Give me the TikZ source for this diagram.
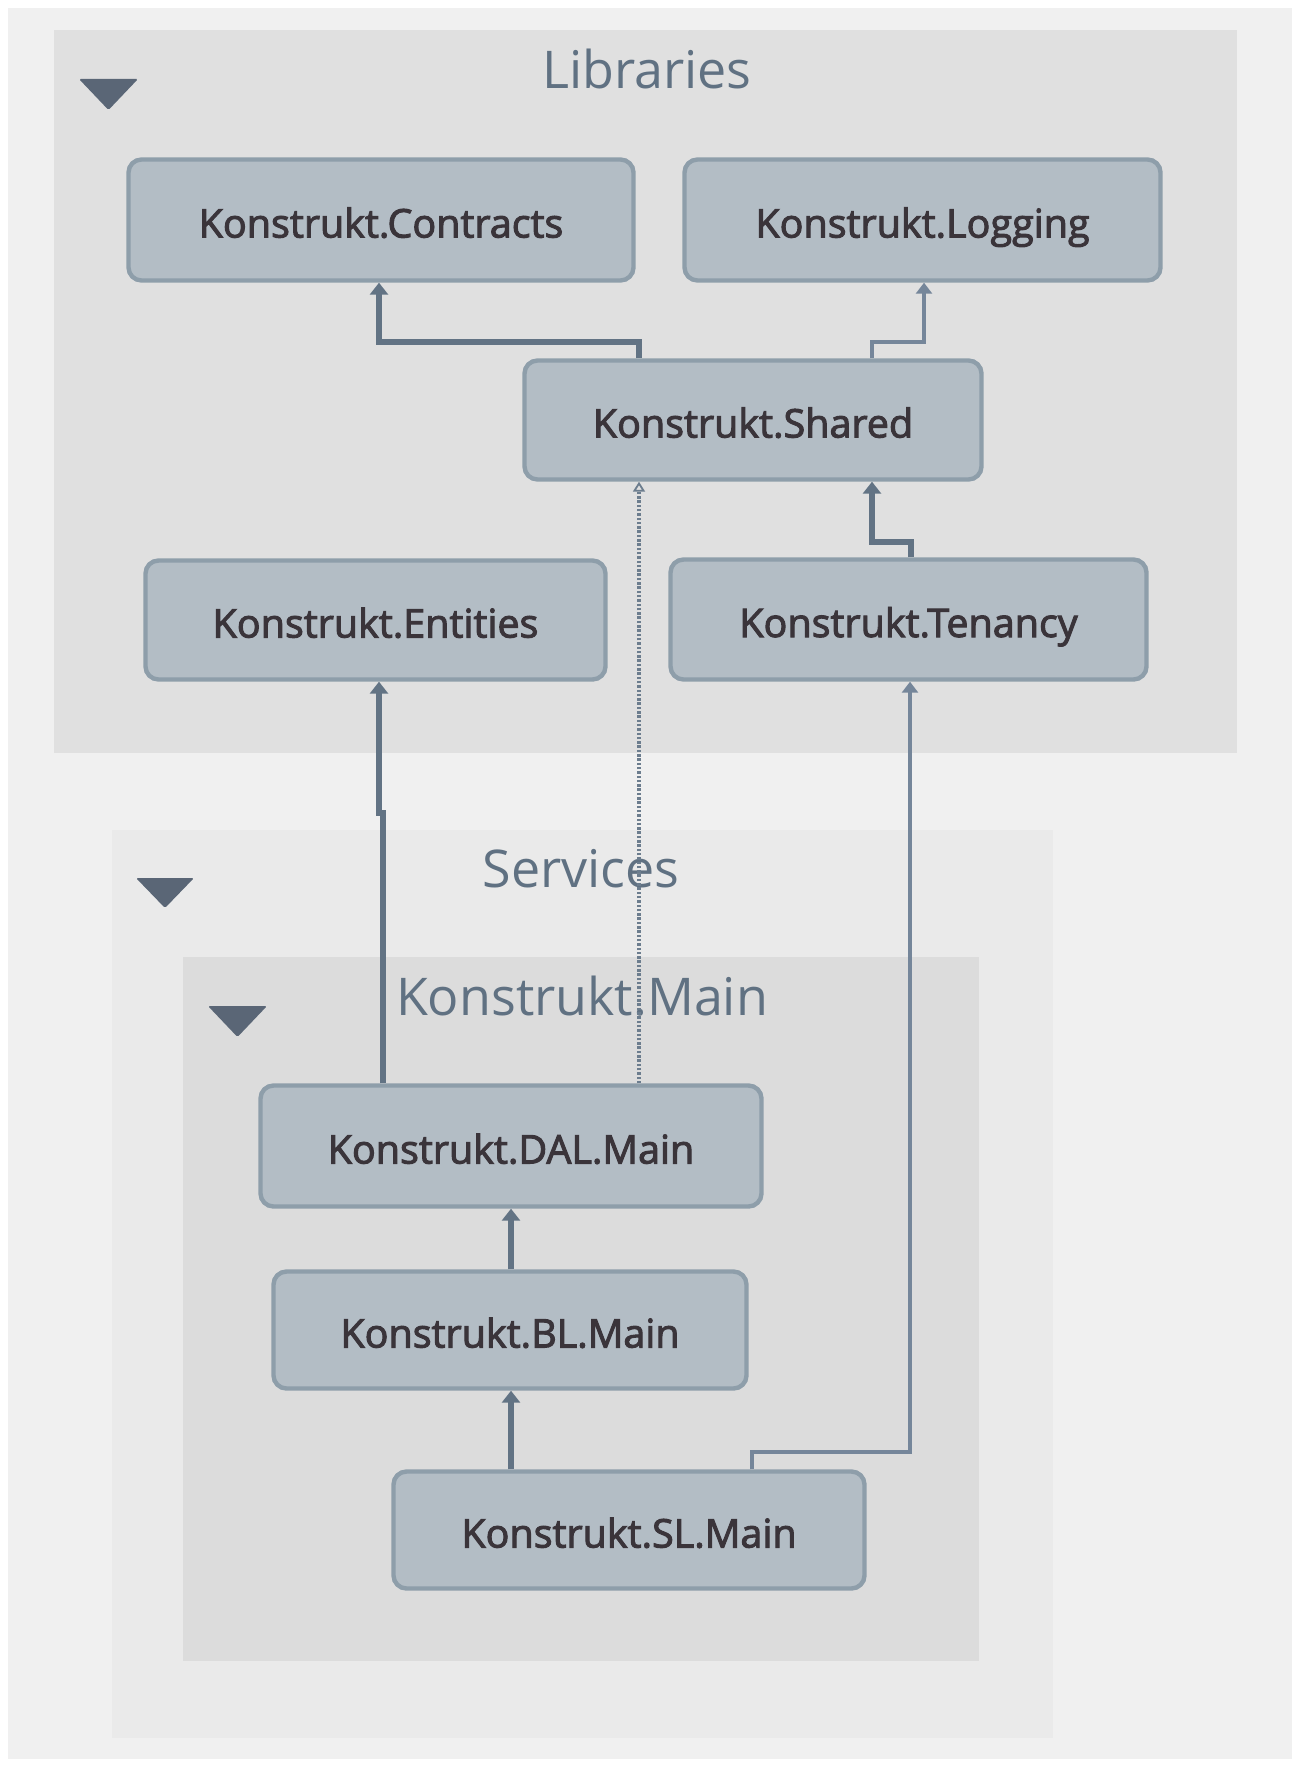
\documentclass[tikz,border=0pt]{standalone}
\usepackage{fontspec}
\setmainfont{Open Sans}
\newfontfamily\boxfont[FakeBold=2.5]{Open Sans}
\usetikzlibrary{arrows.meta}
\definecolor{bgc}{HTML}{F0F0F0}
\definecolor{libc}{HTML}{E0E0E0}
\definecolor{svcc}{HTML}{EAEAEA}
\definecolor{mainc}{HTML}{DCDCDC}
\definecolor{boxfill}{HTML}{B3BDC5}
\definecolor{boxline}{HTML}{8E9EAA}
\definecolor{boxtext}{HTML}{3A343A}
\definecolor{titlec}{HTML}{607182}
\definecolor{linec}{HTML}{627384}
\definecolor{thinc}{HTML}{75869A}
\definecolor{dotc}{HTML}{6C7D8E}
\definecolor{tric}{HTML}{5A6676}
\begin{document}
\begin{tikzpicture}[x=1pt,y=-1pt,
  comp/.style={draw=boxline, line width=4.4pt, fill=boxfill, rounded corners=13pt,
    inner sep=0pt, text=boxtext, font=\boxfont\fontsize{39.5}{46}\selectfont,
    text height=35pt, text depth=0pt},
  grouptitle/.style={anchor=base, text=titlec, font=\fontsize{52}{60}\selectfont, inner sep=0pt},
  container/.style={draw=none, inner sep=0pt},
  strong/.style={draw=linec, line width=6pt, -{Triangle[length=12pt,width=18pt]}},
  weak/.style={draw=thinc, line width=3.2pt, -{Triangle[length=11pt,width=16pt]}},
  dotline/.style={draw=dotc, line width=3.2pt, dash pattern=on 2.5pt off 1.8pt,
    -{Triangle[open,length=10pt,width=12pt,line width=1.8pt]}},
  tri/.style={fill=tric, rounded corners=1.5pt}
]
\useasboundingbox (0,0) rectangle (1299,1766);
\fill[white] (0,0) rectangle (1299,1766);
\fill[bgc] (8,8) rectangle (1292,1759);

% containers
\node[container, fill=libc, minimum width=1183pt, minimum height=723pt] (libs) at (645.5,391.5) {};
\node[container, fill=svcc, minimum width=941pt, minimum height=908pt] (svcs) at (582.5,1284) {};
\node[container, fill=mainc, minimum width=796pt, minimum height=704pt] (kmain) at (581,1309) {};

% titles
\node[grouptitle] (tlibs) at (647,89) {Libraries};
\node[grouptitle] (tsvcs) at (581,887) {Services};
\node[grouptitle] (tmain) at (582,1015) {Konstrukt.Main};

% collapse triangles
\fill[tri] (79,79) -- (138,79) -- (108.5,110) -- cycle;
\fill[tri] (136,878) -- (194,878) -- (165,908) -- cycle;
\fill[tri] (208,1006) -- (267,1006) -- (237.5,1037) -- cycle;

% components
\node[comp, minimum width=505pt, minimum height=121pt] (Contracts) at (381,220) {Konstrukt.Contracts};
\node[comp, minimum width=476pt, minimum height=121pt] (Logging) at (922.5,220) {Konstrukt.Logging};
\node[comp, minimum width=457pt, minimum height=119pt] (Shared) at (753,420) {Konstrukt.Shared};
\node[comp, minimum width=460pt, minimum height=119pt] (Entities) at (375.5,620) {Konstrukt.Entities};
\node[comp, minimum width=476pt, minimum height=120pt] (Tenancy) at (908.5,619.5) {Konstrukt.Tenancy};
\node[comp, minimum width=501pt, minimum height=121pt] (DAL) at (511,1146) {Konstrukt.DAL.Main};
\node[comp, minimum width=473pt, minimum height=117pt] (BL) at (510,1330) {Konstrukt.BL.Main};
\node[comp, minimum width=471pt, minimum height=117pt] (SL) at (629,1530) {Konstrukt.SL.Main};

% bend points
\coordinate (a1) at (639,342); \coordinate (a2) at (379,342);
\coordinate (b1) at (872,342); \coordinate (b2) at (924,342);
\coordinate (c1) at (911,542); \coordinate (c2) at (872,542);
\coordinate (d1) at (383,813); \coordinate (d2) at (379,813);
\coordinate (e1) at (639,800);
\coordinate (f1) at (511,1300);
\coordinate (g1) at (752,1452); \coordinate (g2) at (910,1452);

% connectors
\draw[strong] (Shared.north -| a1) -- (a1) -- (a2) -- (Contracts.south -| a2);
\draw[weak] (Shared.north -| b1) -- (b1) -- (b2) -- (Logging.south -| b2);
\draw[strong] (Tenancy.north -| c1) -- (c1) -- (c2) -- (Shared.south -| c2);
\draw[strong] (DAL.north -| d1) -- (d1) -- (d2) -- (Entities.south -| d2);
\draw[dotline] (DAL.north -| e1) -- (Shared.south -| e1);
\draw[strong] (BL.north -| f1) -- (DAL.south -| f1);
\draw[strong] (SL.north -| f1) -- (BL.south -| f1);
\draw[weak] (SL.north -| g1) -- (g1) -- (g2) -- (Tenancy.south -| g2);
\end{tikzpicture}
\end{document}
